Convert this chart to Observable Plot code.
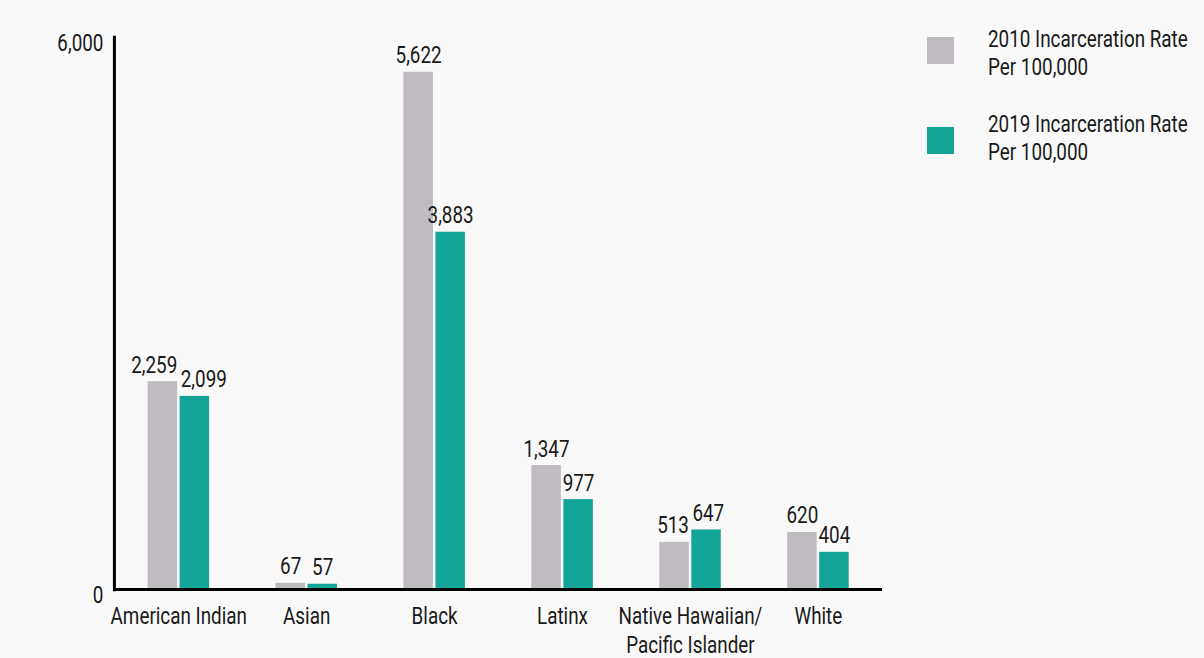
<!DOCTYPE html>
<html>
<head>
<meta charset="utf-8">
<script src="https://cdn.jsdelivr.net/npm/d3@7"></script>
<script src="https://cdn.jsdelivr.net/npm/@observablehq/plot@0.6"></script>
<style>
  html, body { margin: 0; padding: 0; background: #f9f9f9; }
  body { width: 1204px; height: 658px; overflow: hidden; }
  #wrap { position: relative; width: 1204px; height: 658px; font-family: Roboto, "Liberation Sans", sans-serif; color: #1a1a1a; }
  #chart { position: absolute; left: 0; top: 0; }
  #chart svg { transform: scaleX(0.82); transform-origin: 0 0; display: block; }
  #legend { position: absolute; left: 927px; top: 0; }
  .item { position: absolute; left: 0; width: 277px; height: 57px; }
  .sw { position: absolute; left: 0; width: 27px; height: 27px; }
  .lbl { position: absolute; left: 61px; top: 0; font-size: 23px; line-height: 28.4px; white-space: nowrap; transform: scaleX(0.82); transform-origin: 0 0; }
</style>
</head>
<body>
<div id="wrap">
  <div id="chart"></div>
  <div id="legend"></div>
</div>
<script>
const categories = ["American Indian", "Asian", "Black", "Latinx", "Native Hawaiian/\nPacific Islander", "White"];
const rate2010 = [2259, 67, 5622, 1347, 513, 620];
const rate2019 = [2099, 57, 3883, 977, 647, 404];
const yTicks = [0, 6000];
const seriesNames = ["2010 Incarceration Rate\nPer 100,000", "2019 Incarceration Rate\nPer 100,000"];
const seriesColors = ["#bfbbc0", "#13a597"];

const data = categories.map((c, i) => ({category: c, r2010: rate2010[i], r2019: rate2019[i]}));
const fmt = d3.format(",");
const font = 'Roboto, "Liberation Sans", sans-serif';
const s = 0.82; // horizontal condensing of the whole drawing (emulates the condensed typeface)
const height = 658, marginTop = 37, marginBottom = 69;
const pxPerUnit = (height - marginTop - marginBottom) / yTicks[yTicks.length - 1];
// labels of a pair that would collide are pushed apart (anchored to the bars' inner edges)
const collides = d => fmt(d.r2010).length > 2 && Math.abs(d.r2010 - d.r2019) * pxPerUnit < 18;
const free = data.filter(d => !collides(d));
const tight = data.filter(collides);
const lab = {dy: -9, lineAnchor: "bottom", fontSize: 23, fill: "#1a1a1a"};

const chart = Plot.plot({
  width: 910 / s,
  height,
  marginLeft: 114 / s,
  marginRight: 28 / s,
  marginTop,
  marginBottom,
  style: {fontFamily: font, fontSize: "23px", background: "transparent", color: "#1a1a1a", overflow: "visible"},
  x: {domain: categories, paddingInner: 0.52, paddingOuter: 0.26, label: null},
  y: {domain: [0, 6000], label: null},
  marks: [
    Plot.barY(data, {x: "category", y: "r2010", fill: seriesColors[0], insetRight: 32 / s}),
    Plot.barY(data, {x: "category", y: "r2019", fill: seriesColors[1], insetLeft: 32 / s}),
    Plot.text(free, {x: "category", y: "r2010", text: d => fmt(d.r2010), dx: -16 / s, ...lab}),
    Plot.text(free, {x: "category", y: "r2019", text: d => fmt(d.r2019), dx: 16 / s, ...lab}),
    Plot.text(tight, {x: "category", y: "r2010", text: d => fmt(d.r2010), dx: -1.5 / s, textAnchor: "end", ...lab}),
    Plot.text(tight, {x: "category", y: "r2019", text: d => fmt(d.r2019), dx: 2 / s, textAnchor: "start", ...lab}),
    Plot.axisX({tickSize: 0, tickPadding: 14, fontSize: 23, lineHeight: 1.26, label: null, fill: "#1a1a1a"}),
    Plot.axisY({ticks: yTicks, tickFormat: d => fmt(d), tickSize: 0, tickPadding: 11 / s, dy: 6.5, fontSize: 23, label: null, fill: "#1a1a1a"}),
    Plot.ruleY([0], {stroke: "#000", strokeWidth: 3}),
    Plot.frame({anchor: "left", stroke: "#000", strokeWidth: 3 / s})
  ]
});
document.getElementById("chart").appendChild(chart);

const legend = document.getElementById("legend");
const tops = [26, 111];
const swTops = [11, 15.5];
seriesNames.forEach((name, i) => {
  const item = document.createElement("div");
  item.className = "item";
  item.style.top = tops[i] + "px";
  const sw = document.createElement("div");
  sw.className = "sw";
  sw.style.background = seriesColors[i];
  sw.style.top = swTops[i] + "px";
  const lbl = document.createElement("div");
  lbl.className = "lbl";
  lbl.innerHTML = name.split("\n").join("<br>");
  item.appendChild(sw);
  item.appendChild(lbl);
  legend.appendChild(item);
});
</script>
</body>
</html>
